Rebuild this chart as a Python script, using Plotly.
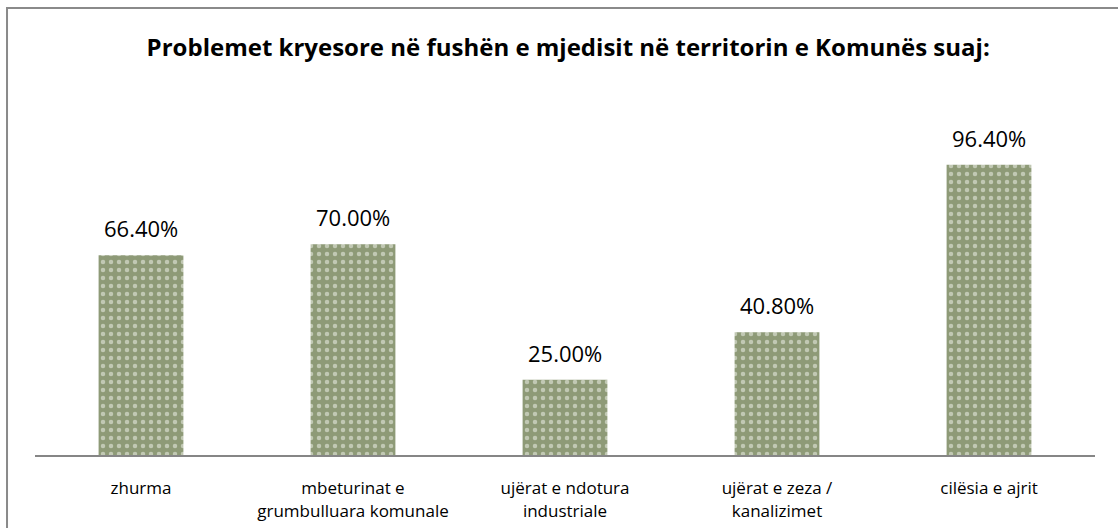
import plotly.graph_objects as go

categories = ["zhurma", "mbeturinat e<br>grumbulluara komunale", "ujërat e ndotura<br>industriale",
              "ujërat e zeza /<br>kanalizimet", "cilësia e ajrit"]
values = [66.4, 70.0, 25.0, 40.8, 96.4]
labels = ["66.40%", "70.00%", "25.00%", "40.80%", "96.40%"]
title_text = "<b>Problemet kryesore në fushën e mjedisit në territorin e Komunës suaj:</b>"

FONT = "Open Sans, Liberation Sans, Arial, sans-serif"

fig = go.Figure()
fig.add_trace(go.Bar(
    x=categories, y=values,
    width=0.4,
    marker=dict(color="#9aa585", line=dict(width=0),
                pattern=dict(shape=".", fgcolor="#f4f6ef", bgcolor="#8e9a77", size=8, solidity=0.25)),
    cliponaxis=False, hoverinfo="skip",
))

annotations = [dict(x=c, y=v, xref="x", yref="y", text=t, showarrow=False,
                    yanchor="middle", xanchor="center", yshift=27,
                    font=dict(size=22, color="#000000", family=FONT))
               for c, v, t in zip(categories, values, labels)]

fig.update_layout(
    width=1118, height=528,
    margin=dict(l=35, r=23, t=154, b=73),
    paper_bgcolor="white", plot_bgcolor="white",
    showlegend=False,
    title=dict(text=title_text, x=0.503, xref="paper", xanchor="center", y=1 - 48 / 528, yanchor="middle",
               font=dict(size=24, color="#000000", family=FONT)),
    font=dict(family=FONT),
    xaxis=dict(showline=True, linecolor="#868686", linewidth=2, showgrid=False, zeroline=False,
               automargin=False,
               ticks="", tickfont=dict(size=17, color="#000000", family=FONT), ticklabelstandoff=17),
    yaxis=dict(range=[0, 100], visible=False, automargin=False),
    annotations=annotations,
    shapes=[dict(type="path", xref="paper", yref="paper",
                 path="M -0.0264,-0.5 L -0.0264,1.485 L 1.1,1.485",
                 line=dict(color="#8a8a8a", width=2))],
)

fig.write_html("out.html", config={"displayModeBar": False},
               post_script="document.body.style.margin='0px';document.body.style.overflow='hidden';")
